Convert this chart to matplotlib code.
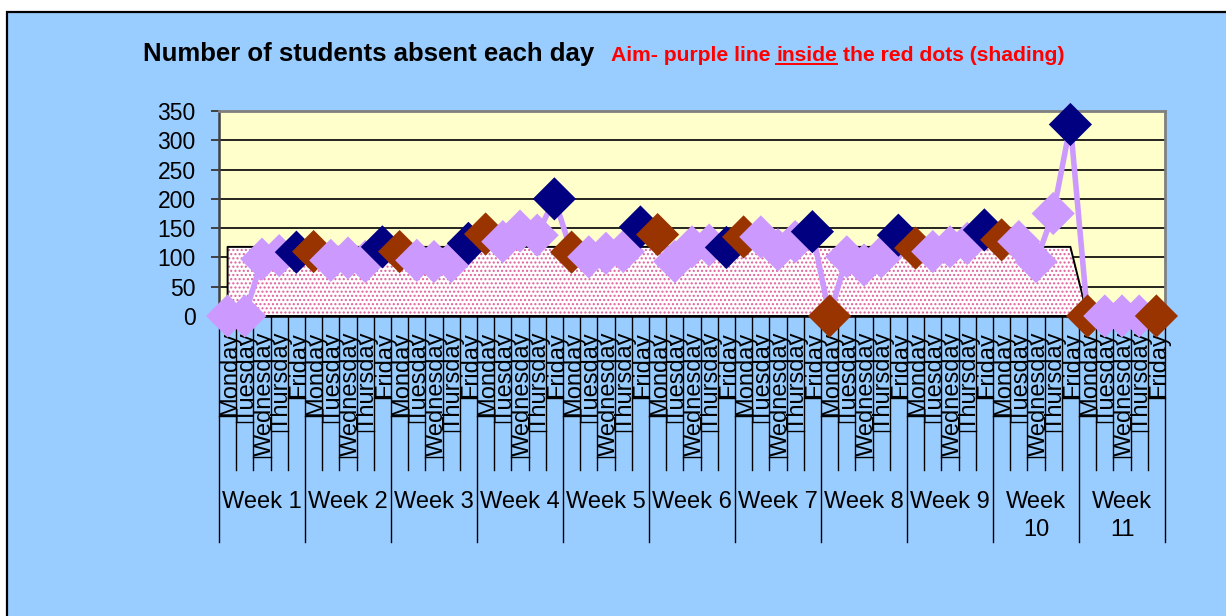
import matplotlib
matplotlib.use("Agg")
import matplotlib.pyplot as plt
from matplotlib.patches import Rectangle
from matplotlib.font_manager import FontProperties

# ---------------- data ----------------
days = ["Monday", "Tuesday", "Wednesday", "Thursday", "Friday"]
week_labels = ["Week 1", "Week 2", "Week 3", "Week 4", "Week 5", "Week 6",
               "Week 7", "Week 8", "Week 9", "Week\n10", "Week\n11"]
absent = [
    0, 0, 97, 103, 109,        # week 1
    110, 95, 99, 93, 118,      # week 2
    110, 95, 93, 93, 124,      # week 3
    140, 127, 145, 138, 200,   # week 4
    109, 101, 107, 110, 152,   # week 5
    139, 93, 118, 121, 117,    # week 6
    135, 135, 113, 127, 144,   # week 7
    0, 101, 87, 101, 138,      # week 8
    116, 110, 118, 124, 147,   # week 9
    130, 127, 93, 175, 327,    # week 10
    0, 0, 0, 0, 0,             # week 11
]
target = [
    118, 118, 118, 118, 118,
    118, 118, 118, 118, 118,
    118, 118, 118, 118, 118,
    118, 118, 118, 118, 118,
    118, 118, 118, 118, 118,
    118, 118, 118, 118, 118,
    118, 118, 118, 118, 118,
    118, 118, 118, 118, 118,
    118, 118, 118, 118, 118,
    118, 118, 118, 118, 118,
    0, 0, 0, 0, 0,
]
P, N, B = "#CC99FF", "#000080", "#993300"
marker_colors = [
    P, P, P, P, N,
    B, P, P, P, N,
    B, P, P, P, N,
    B, P, P, P, N,
    B, P, P, P, N,
    B, P, P, P, N,
    B, P, P, P, N,
    B, P, P, P, N,
    B, P, P, P, N,
    B, P, P, P, N,
    B, P, P, P, B,
]
yticks = [0, 50, 100, 150, 200, 250, 300, 350]

# ---------------- style ----------------
FONT = "Liberation Sans"
plt.rcParams["font.family"] = [FONT, "DejaVu Sans"]
plt.rcParams["hatch.linewidth"] = 1.0

W, H = 1226, 616
fig = plt.figure(figsize=(W / 100, H / 100), dpi=100, facecolor="white")

# blue chart frame (behind everything)
fig.patches.append(Rectangle((7 / W, -0.1), 1.2, (H - 12) / H + 0.1,
                             transform=fig.transFigure, facecolor="#99CCFF",
                             edgecolor="black", linewidth=1.6, zorder=-10))

L, R, T, Bm = 219, 1165, 111, 316
ax = fig.add_axes([L / W, 1 - Bm / H, (R - L) / W, (Bm - T) / H])
ax.set_facecolor("#FFFFCC")
axh = Bm - T


def ay(ypx):
    return (Bm - ypx) / axh


n = len(absent)
x = list(range(n))
ax.set_xlim(-0.5, n - 0.5)
ax.set_ylim(0, 350)
ax.set_yticks(yticks)
ax.set_xticks([])
ax.set_axisbelow(True)
ax.yaxis.grid(True, color="black", linewidth=1.2)
ax.tick_params(axis="y", length=5.8, width=1.4, color="#404040", pad=11,
               labelsize=16.5)
for lab in ax.get_yticklabels():
    lab.set_family(FONT)

ax.spines["left"].set_color("#404040")
ax.spines["left"].set_linewidth(1.8)
ax.spines["bottom"].set_color("black")
ax.spines["bottom"].set_linewidth(1.8)
for s in ("top", "right"):
    ax.spines[s].set_color("#808080")
    ax.spines[s].set_linewidth(2.0)

# shaded target area
ax.fill_between(x, target, 0, facecolor="white", edgecolor="#E0609A",
                hatch="....", linewidth=0, zorder=1)
ax.fill_between(x, target, 0, facecolor="none", edgecolor="black",
                linewidth=1.4, zorder=1.1)

# absence line with diamond markers
ax.plot(x, absent, color=P, linewidth=4.0, zorder=3)
ax.scatter(x, absent, c=marker_colors, marker="D", s=22 ** 2,
           linewidths=0, zorder=4, clip_on=False)

# ---------------- multi-level category axis ----------------
xt = ax.get_xaxis_transform()
for k in range(n + 1):
    ybot = 542 if k % 5 == 0 else 470
    ax.plot([k - 0.5, k - 0.5], [0, ay(ybot)], color="black", linewidth=1.0,
            transform=xt, clip_on=False, zorder=2)

fig.canvas.draw()
renderer = fig.canvas.get_renderer()
day_fp = FontProperties(family=FONT, size=17)
top_px = 332
for k in range(n):
    day = days[k % 5]
    ax.text(k + 0.5, ay(top_px), day, rotation=90, rotation_mode="anchor",
            ha="right", va="baseline", transform=xt, fontproperties=day_fp,
            clip_on=False, zorder=2.5)
    w, h, d = renderer.get_text_width_height_descent(day, day_fp, ismath=False)
    yb = top_px + w
    ax.plot([k - 0.5, k + 0.5], [ay(yb), ay(yb)], color="black",
            linewidth=1.0, transform=xt, clip_on=False, zorder=2)

for wi, wl in enumerate(week_labels):
    cx = wi * 5 + 2
    for li, line in enumerate(wl.split("\n")):
        ax.text(cx, ay(508 + 28 * li), line, ha="center", va="baseline",
                transform=xt, fontsize=17, family=FONT, clip_on=False)

# ---------------- titles ----------------
base_y = 1 - 61 / H
fig.text(143 / W, base_y, "Number of students absent each day", fontsize=18.5,
         weight="bold", va="baseline", family=FONT)

red_fp = FontProperties(family=FONT, size=15.2, weight="bold")
space_px = 0.278 * 15.2 * 100 / 72
xpos = 611.0
parts = ["Aim- purple line", "inside", "the red dots (shading)"]
for i, part in enumerate(parts):
    fig.text(xpos / W, base_y, part, fontproperties=red_fp, color="#FF0000",
             va="baseline")
    w, h, d = renderer.get_text_width_height_descent(part, red_fp, ismath=False)
    if part == "inside":
        fig.add_artist(plt.Line2D([xpos / W, (xpos + w) / W],
                                  [1 - 64 / H, 1 - 64 / H], color="#FF0000",
                                  linewidth=1.4, transform=fig.transFigure))
    xpos += w + space_px

fig.savefig("out.png", dpi=100, facecolor="white")
